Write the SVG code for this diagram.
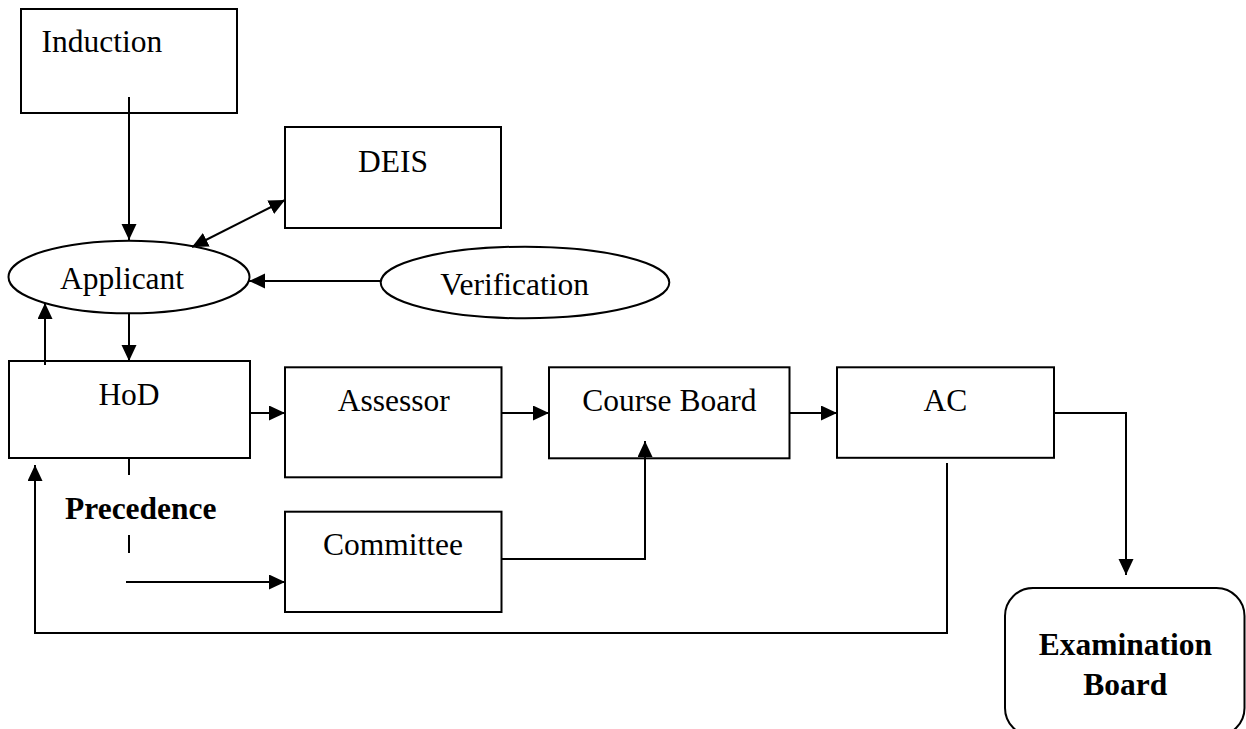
<svg xmlns="http://www.w3.org/2000/svg" width="1246" height="729" viewBox="0 0 1246 729">
<style>
.box{fill:#fff;stroke:#000;stroke-width:2}
.t{font-family:"Liberation Serif","Times New Roman",serif;font-size:31.5px;fill:#000}
.b{font-weight:bold}
.c{stroke:#000;stroke-width:2;fill:none}
</style>
<defs>
<marker id="ah" markerUnits="userSpaceOnUse" markerWidth="17" markerHeight="16" refX="16" refY="7.5" orient="auto-start-reverse">
<path d="M0,0 L16,7.5 L0,15 z" fill="#000"/>
</marker>
</defs>
<rect width="1246" height="729" fill="#fff"/>
<g id="induction">
<rect class="box" x="21" y="9" width="216" height="104"/>
<text class="t" x="41.5" y="52">Induction</text>
</g>
<g id="deis">
<rect class="box" x="285" y="127" width="216" height="101"/>
<text class="t" x="393" y="172" text-anchor="middle">DEIS</text>
</g>
<g id="applicant">
<ellipse class="box" cx="129" cy="277" rx="120.5" ry="36.3"/>
<text class="t" x="122" y="288.5" text-anchor="middle">Applicant</text>
</g>
<g id="verification">
<ellipse class="box" cx="525" cy="282.5" rx="144.3" ry="35.8"/>
<text class="t" x="514.7" y="295" text-anchor="middle">Verification</text>
</g>
<g id="hod">
<rect class="box" x="9" y="361" width="241" height="97"/>
<text class="t" x="129" y="405" text-anchor="middle">HoD</text>
</g>
<g id="assessor">
<rect class="box" x="285" y="367.3" width="216.5" height="110"/>
<text class="t" x="393.7" y="410.7" text-anchor="middle">Assessor</text>
</g>
<g id="courseboard">
<rect class="box" x="549" y="367.3" width="240.5" height="91"/>
<text class="t" x="669.4" y="410.7" text-anchor="middle">Course Board</text>
</g>
<g id="ac">
<rect class="box" x="837" y="367.3" width="217" height="90.5"/>
<text class="t" x="945.5" y="410.7" text-anchor="middle">AC</text>
</g>
<g id="precedence">
<text class="t b" x="65" y="519">Precedence</text>
</g>
<g id="committee">
<rect class="box" x="285" y="511.7" width="216.5" height="100.3"/>
<text class="t" x="393" y="555" text-anchor="middle">Committee</text>
</g>
<g id="examinationboard">
<rect class="box" x="1005" y="588" width="239.5" height="148" rx="28" ry="28"/>
<text class="t b" x="1125.3" y="655" text-anchor="middle">Examination</text>
<text class="t b" x="1125.3" y="695" text-anchor="middle">Board</text>
</g>
<g id="connectors">
<path class="c" d="M129,97 V240" marker-end="url(#ah)"/>
<path class="c" d="M192,247 L285,200" marker-start="url(#ah)" marker-end="url(#ah)"/>
<path class="c" d="M381,281 H249" marker-end="url(#ah)"/>
<path class="c" d="M129,313 V361" marker-end="url(#ah)"/>
<path class="c" d="M45,365 V303" marker-end="url(#ah)"/>
<path class="c" d="M250,413 H285" marker-end="url(#ah)"/>
<path class="c" d="M502,413 H549" marker-end="url(#ah)"/>
<path class="c" d="M789,413 H837" marker-end="url(#ah)"/>
<path class="c" d="M502,559 H645 V441" marker-end="url(#ah)"/>
<path class="c" d="M1054,413 H1126 V575" marker-end="url(#ah)"/>
<path class="c" d="M947,463 V633 H35 V465" marker-end="url(#ah)"/>
<path class="c" d="M129,459 V475"/>
<path class="c" d="M129,535 V553"/>
<path class="c" d="M126,582 H285" marker-end="url(#ah)"/>
</g>
</svg>
